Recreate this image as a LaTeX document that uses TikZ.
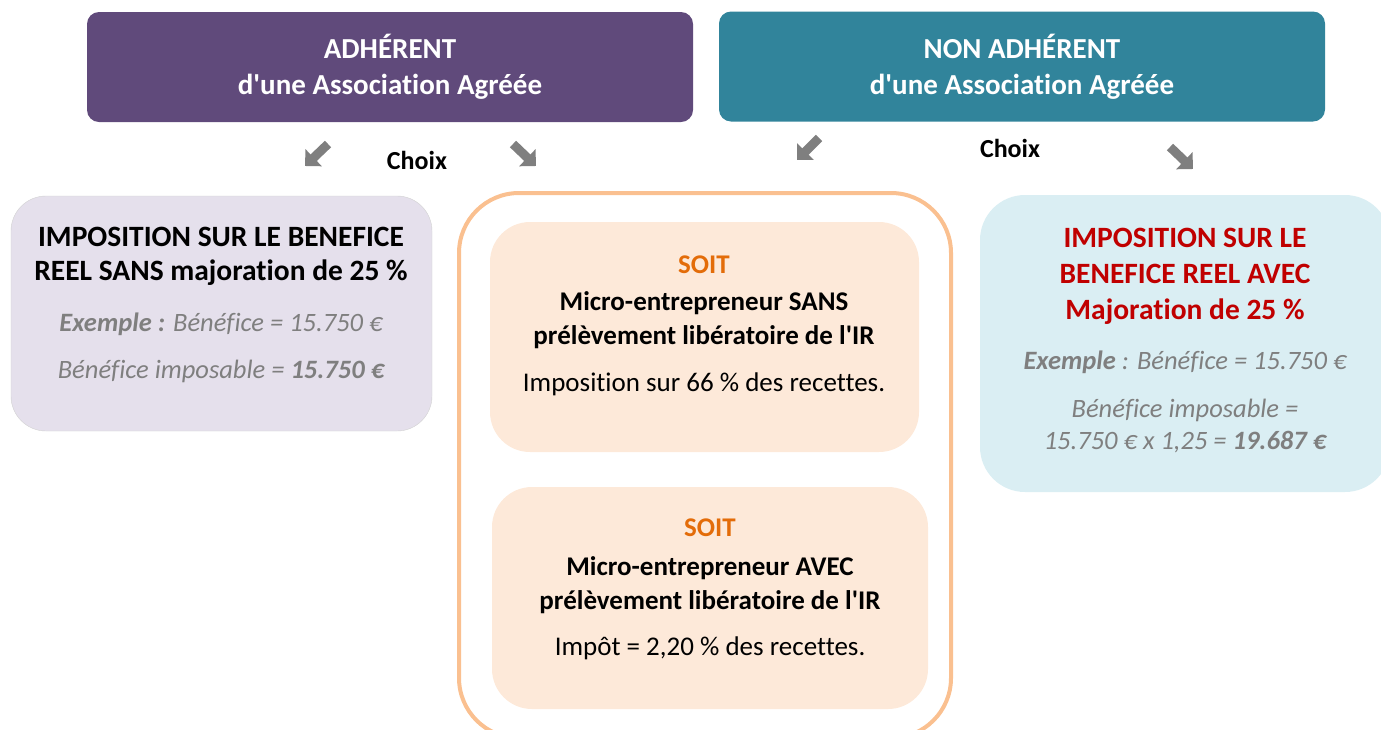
\documentclass[tikz,border=0pt]{standalone}
\usepackage{fontspec}
\newfontfamily\calibri{Carlito}[Ligatures=CommonOff]
\usetikzlibrary{arrows.meta,positioning}

\definecolor{adhviolet}{HTML}{604A7B}
\definecolor{nonteal}{HTML}{31849B}
\definecolor{lavande}{HTML}{E5E0EC}
\definecolor{peche}{HTML}{FDE9D9}
\definecolor{bleuclair}{HTML}{DAEEF3}
\definecolor{orangeclair}{HTML}{FAC090}
\definecolor{orangesoit}{HTML}{E36C09}
\definecolor{rougetitre}{HTML}{C00000}
\definecolor{grisex}{HTML}{7F7F7F}

\tikzset{
  header/.style={rounded corners=12pt, minimum width=606pt, minimum height=110pt,
    text=white, align=center, font=\calibri\fontsize{29}{36}\selectfont\bfseries},
  panel/.style={rounded corners=#1, inner sep=0pt},
  titre/.style={align=center, font=\calibri\fontsize{29.5}{34}\selectfont\bfseries},
  soustitre/.style={align=center, font=\calibri\fontsize{27}{34}\selectfont\bfseries},
  exemple/.style={align=center, text=grisex, font=\calibri\fontsize{26.5}{32}\selectfont\itshape},
  corps/.style={align=center, font=\calibri\fontsize{27}{32}\selectfont},
  choix/.style={font=\calibri\fontsize{26}{30}\selectfont\bfseries},
  fleche/.style={draw=grisex, line width=9pt, -{Triangle[width=23pt,length=12pt]}}
}

\begin{document}
\begin{tikzpicture}[x=1pt,y=-1pt]
	\useasboundingbox (0,0) rectangle (1381,729);
	
	% the two headers
	\node[header, fill=adhviolet] (adh) at (390,67) {ADHÉRENT\\d'une Association Agréée};
	\node[header, fill=nonteal] (nonadh) at (1022,66.5) {NON ADHÉRENT\\d'une Association Agréée};
	
	% choix arrows
	\coordinate (A1) at (328,144);
	\coordinate (B1) at (305,166);
	\coordinate (A2) at (513,144);
	\coordinate (B2) at (536,166);
	\coordinate (A3) at (819,138);
	\coordinate (B3) at (797,160);
	\coordinate (A4) at (1170,147);
	\coordinate (B4) at (1193,169);
	\draw[fleche] (A1) -- (B1);
	\draw[fleche] (A2) -- (B2);
	\draw[fleche] (A3) -- (B3);
	\draw[fleche] (A4) -- (B4);
	\node[choix] (choixadh) at (417,160) {Choix};
	\node[choix] (choixnon) at (1010,148) {Choix};
	
	% left panel : reel sans majoration
	\node[panel=35pt, fill=lavande, draw=black!18, minimum width=421pt, minimum height=235pt] (reelsans) at (221.5,313.5) {};
	\node[titre] (reelsanstxt) at (221,256) {IMPOSITION SUR LE BENEFICE\\REEL SANS majoration de 25 \%};
	\node[exemple] (reelsansex) at (221,324) {\textbf{Exemple :} Bénéfice = 15.750 €};
	\node[exemple] (reelsansimp) at (221,371) {Bénéfice imposable = \textbf{15.750 €}};
	
	% middle frame with the two micro panels
	\node[panel=60pt, draw=orangeclair, line width=4pt, minimum width=492pt, minimum height=545pt] (micro) at (705,465.5) {};
	\node[panel=40pt, fill=peche, minimum width=429pt, minimum height=230pt] (microsans) at (704.5,337) {};
	\node[soustitre, text=orangesoit] (soitsans) at (704,265) {SOIT};
	\node[soustitre] (microsanstxt) at (704,320) {Micro-entrepreneur SANS\\prélèvement libératoire de l'IR};
	\node[corps] (microsansimp) at (704,384) {Imposition sur 66 \% des recettes.};
	
	\node[panel=40pt, fill=peche, minimum width=436pt, minimum height=222pt] (microavec) at (710,598) {};
	\node[soustitre, text=orangesoit] (soitavec) at (710,528) {SOIT};
	\node[soustitre] (microavectxt) at (710,585) {Micro-entrepreneur AVEC\\prélèvement libératoire de l'IR};
	\node[corps] (microavecimp) at (710,648) {Impôt = 2,20 \% des recettes.};
	
	% right panel : reel avec majoration
	\node[panel=45pt, fill=bleuclair, minimum width=410pt, minimum height=297pt] (reelavec) at (1185,343.5) {};
	\node[titre, text=rougetitre, font=\calibri\fontsize{29.5}{36}\selectfont\bfseries] (reelavectxt) at (1185,276) {IMPOSITION SUR LE\\BENEFICE REEL AVEC\\Majoration de 25 \%};
	\node[exemple] (reelavecex) at (1185,362) {\textbf{Exemple} : Bénéfice = 15.750 €};
	\node[exemple] (reelavecimp) at (1185,426) {Bénéfice imposable =\\15.750 € x 1,25 = \textbf{19.687 €}};
\end{tikzpicture}
\end{document}
